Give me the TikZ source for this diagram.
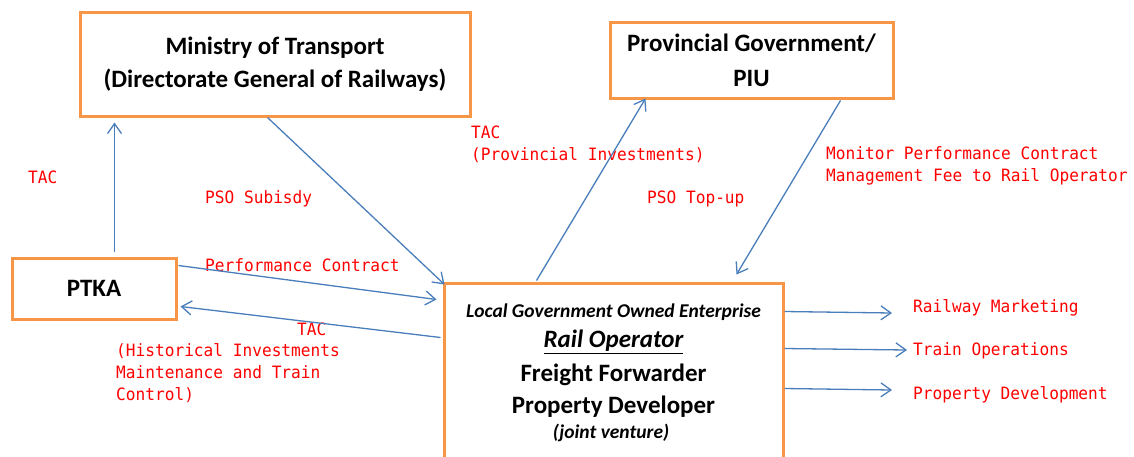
\documentclass[tikz,border=0pt]{standalone}
\usepackage{fontspec}
\setmainfont{Carlito}
\newfontfamily\lblfont[FakeStretch=0.95]{DejaVu Sans Mono}
\usetikzlibrary{arrows.meta,calc}
\definecolor{boxorange}{HTML}{F79646}
\definecolor{flowblue}{HTML}{4A7EBB}
\definecolor{lblred}{HTML}{FF0000}
\begin{document}
\begin{tikzpicture}[x=1pt,y=-1pt,
  orgbox/.style={draw=boxorange,line width=3pt,rectangle,inner sep=0pt,
    align=center,font=\bfseries\fontsize{25}{33}\selectfont},
  boxtext/.style={inner sep=0pt,font=\bfseries\fontsize{25}{30}\selectfont},
  smalltext/.style={inner sep=0pt,font=\bfseries\itshape\fontsize{19.5}{22}\selectfont},
  flow/.style={draw=flowblue,line width=1.3pt,-{Straight Barb[length=10pt,width=14pt,line width=1.3pt]}},
  lbl/.style={inner sep=0pt,anchor=west,align=left,text=lblred,
    font=\lblfont\fontsize{17}{22}\selectfont}]
\useasboundingbox (0,0) rectangle (1134,456);
\clip (0,0) rectangle (1134,456);

% organisation boxes
\node[orgbox,minimum width=390pt,minimum height=104pt] (mot) at (275,64)
  {Ministry of Transport\\(Directorate General of Railways)};
\node[orgbox,minimum width=283pt,minimum height=76pt,
  font=\bfseries\fontsize{25}{35}\selectfont] (piu) at (751.5,60)
  {Provincial Government/\\PIU};
\node[orgbox,minimum width=164pt,minimum height=61pt] (ptka) at (94,288.5) {PTKA};
\node[orgbox,minimum width=339pt,minimum height=197pt] (rail) at (613.5,381.5) {};

% text of the operator box
\node[smalltext] (loge) at (613.5,312) {Local Government Owned Enterprise};
\node[boxtext,font=\bfseries\itshape\fontsize{25}{30}\selectfont] (op) at (613.5,342) {\underline{Rail Operator}};
\node[boxtext] (ff) at (613.5,375) {Freight Forwarder};
\node[boxtext] (pd) at (613.5,407) {Property Developer};
\node[smalltext] (jv) at (611,433) {(joint venture)};

% red flow labels
\node[lbl] (tac1) at (28,177) {TAC};
\node[lbl] (psos) at (205,199) {PSO Subisdy};
\node[lbl] (perf) at (205,265) {Performance Contract};
\node[lbl] (tac2) at (297,329) {TAC};
\node[lbl] (hist) at (116,373) {(Historical Investments\\Maintenance and Train\\Control)};
\node[lbl] (tac3) at (471,144) {TAC\\(Provincial Investments)};
\node[lbl] (psot) at (647,199) {PSO Top-up};
\node[lbl] (mon) at (826,166) {Monitor Performance Contract\\Management Fee to Rail Operator};
\node[lbl] (mk) at (913,308) {Railway Marketing};
\node[lbl] (ops) at (913,351) {Train Operations};
\node[lbl] (dev) at (913,395) {Property Development};

% connectors
\draw[flow] ([xshift=104pt,yshift=5pt]ptka.north west) -- ([xshift=36pt,yshift=-5pt]mot.south west);
\draw[flow] ([xshift=189pt]mot.south west) -- ([xshift=2pt,yshift=-3pt]rail.north west);
\draw[flow] ([xshift=1pt,yshift=-9pt]ptka.north east) -- ([xshift=-6pt,yshift=-18pt]rail.north west);
\draw[flow] ([xshift=-2pt,yshift=-56pt]rail.north west) -- ([xshift=3pt,yshift=-50pt]ptka.north east);
\draw[flow] ([xshift=94pt,yshift=1pt]rail.north west) -- ([xshift=37pt,yshift=1pt]piu.south west);
\draw[flow] ([xshift=232pt,yshift=-1pt]piu.south west) -- ([xshift=294pt,yshift=7pt]rail.north west);
\draw[flow] ([yshift=-30pt]rail.north east) -- ([xshift=-21pt,yshift=-5pt]mk.west);
\draw[flow] ([yshift=-67pt]rail.north east) -- ([xshift=-6pt,yshift=1pt]ops.west);
\draw[flow] ([yshift=-107pt]rail.north east) -- ([xshift=-21pt,yshift=5pt]dev.west);
\end{tikzpicture}
\end{document}
